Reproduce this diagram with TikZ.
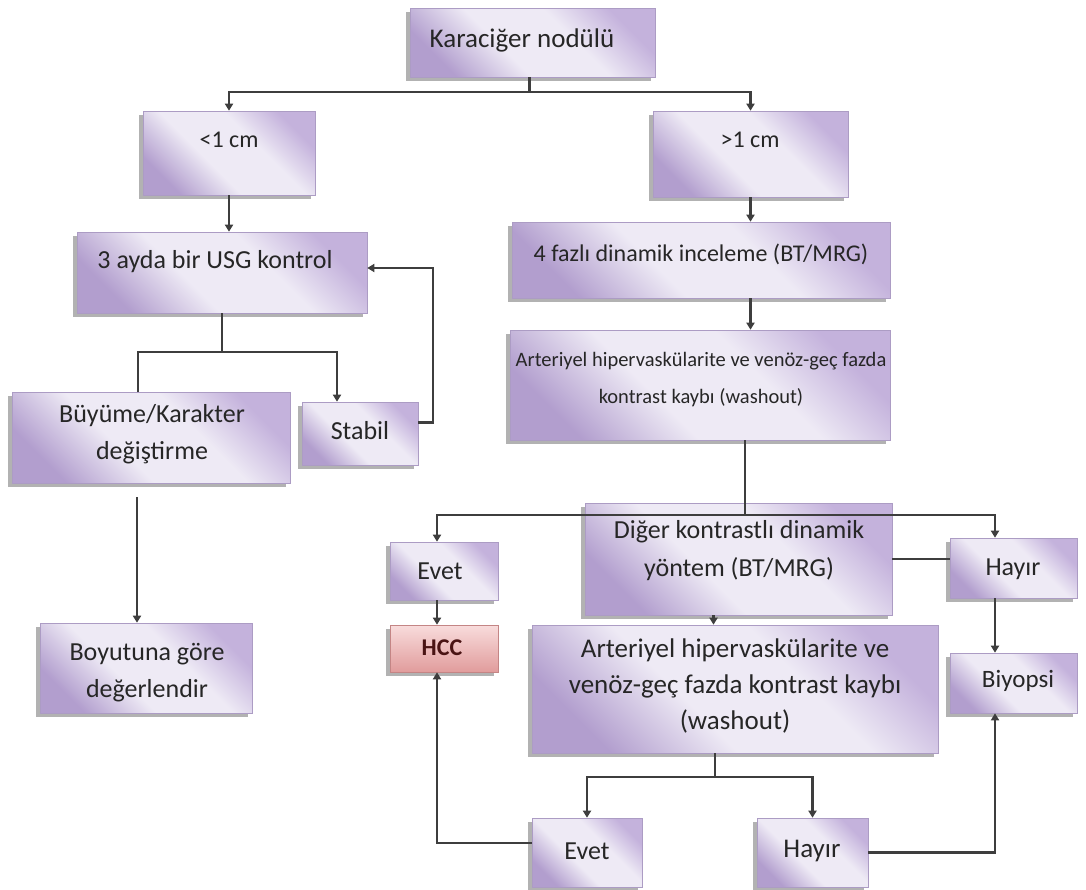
\documentclass[tikz,border=0pt]{standalone}
\usepackage{fontspec}
\setmainfont{Carlito}
\usetikzlibrary{arrows.meta,shadows,fit,calc}
\definecolor{ln}{HTML}{3E3E3E}
\definecolor{txt}{HTML}{262626}
\definecolor{boxedge}{HTML}{AC9CC4}
\definecolor{boxtop}{HTML}{C4B2DC}
\definecolor{boxmid}{HTML}{EEEAF5}
\definecolor{boxbot}{HTML}{B29ECE}
\definecolor{hcctop}{HTML}{F8DCDC}
\definecolor{hccmid}{HTML}{F2C6C6}
\definecolor{hccbot}{HTML}{E19C9C}
\definecolor{hccedge}{HTML}{C48585}
\definecolor{hcctxt}{HTML}{4A1414}
\pgfdeclareverticalshading{lavshade}{100bp}{color(0bp)=(boxbot); color(25bp)=(boxbot); color(42bp)=(boxmid); color(60bp)=(boxmid); color(75bp)=(boxtop); color(100bp)=(boxtop)}
\tikzset{
  box/.style={draw=boxedge, line width=0.6pt, shading=lavshade, shading angle=-45, inner sep=0pt,
    drop shadow={shadow xshift=-4pt, shadow yshift=-4pt, fill=black!55, opacity=0.55}},
  hccbox/.style={draw=hccedge, line width=0.6pt, top color=hcctop, middle color=hccmid, bottom color=hccbot,
    inner sep=0pt, drop shadow={shadow xshift=-4pt, shadow yshift=-4pt, fill=black!55, opacity=0.55}},
  lbl/.style={font=\fontsize{26}{37}\selectfont, text=txt, align=center, inner sep=0pt},
  conn/.style={draw=ln, line width=2.2pt},
  arr/.style={conn, -{Triangle[length=7pt,width=8pt]}},
}
\newcommand\mybox[6][box]{%
  \path (#3,#4) coordinate (#2-nw) (#5,#6) coordinate (#2-se);
  \node[#1, fit=(#2-nw)(#2-se)] (#2) {};}
\begin{document}
\begin{tikzpicture}[x=1pt,y=-1pt]
\useasboundingbox (0,0) rectangle (1086,889);
% boxes
\mybox{kar}{410}{8}{655}{77}
\mybox{lt}{143}{111}{315}{195}
\mybox{gt}{653}{111}{848}{197}
\mybox{usg}{77}{232}{367}{313}
\mybox{faz}{512}{222}{890}{298}
\mybox{artA}{510}{330}{890}{440}
\mybox{buy}{12}{392}{290}{483}
\mybox{stb}{302}{402}{418}{465}
\mybox{boy}{40}{623}{252}{713}
\mybox{evA}{390}{542}{498}{600}
\mybox[hccbox]{hcc}{390}{625}{498}{672}
\mybox{dig}{585}{503}{892}{615}
\mybox{artB}{532}{625}{938}{753}
\mybox{hyA}{950}{538}{1077}{598}
\mybox{biy}{950}{653}{1077}{713}
\mybox{evB}{532}{818}{642}{887}
\mybox{hyB}{757}{818}{868}{887}
% texts
\node[lbl, font=\fontsize{27}{37}\selectfont] (t-kar) at (522,40) {Karaciğer nodülü};
\node[lbl, font=\fontsize{24}{36}\selectfont] (t-lt) at (229,140) {<1 cm};
\node[lbl, font=\fontsize{24}{36}\selectfont] (t-gt) at (750,140) {>1 cm};
\node[lbl] (t-usg) at (215,262) {3 ayda bir USG kontrol};
\node[lbl, font=\fontsize{24}{36}\selectfont] (t-faz) at (701,254) {4 fazlı dinamik inceleme (BT/MRG)};
\node[lbl, font=\fontsize{20.5}{37}\selectfont] (t-artA) at (701,380) {Arteriyel hipervaskülarite ve venöz-geç fazda\\kontrast kaybı (washout)};
\node[lbl] (t-buy) at (152,434) {Büyüme/Karakter\\değiştirme};
\node[lbl] (t-stb) at (360,431) {Stabil};
\node[lbl] (t-boy) at (147,673) {Boyutuna göre\\değerlendir};
\node[lbl] (t-evA) at (440,571) {Evet};
\node[lbl, font=\fontsize{24}{26}\selectfont\bfseries, text=hcctxt] (t-hcc) at (442,648) {HCC};
\node[lbl, font=\fontsize{26}{38}\selectfont] (t-dig) at (739,551) {Diğer kontrastlı dinamik\\yöntem (BT/MRG)};
\node[lbl, font=\fontsize{27}{36}\selectfont] (t-artB) at (735,686) {Arteriyel hipervaskülarite ve\\venöz-geç fazda kontrast kaybı\\(washout)};
\node[lbl] (t-hyA) at (1013,569) {Hayır};
\node[lbl, font=\fontsize{25}{36}\selectfont] (t-biy) at (1018,681) {Biyopsi};
\node[lbl] (t-evB) at (587,851) {Evet};
\node[lbl, font=\fontsize{27}{36}\selectfont] (t-hyB) at (812,851) {Hayır};
% connectors
\draw[conn] ([xshift=-3pt]kar.south) -- ++(0,15) coordinate (j1);
\draw[arr] (j1) -| (lt.north);
\draw[arr] (j1) -| (gt.north);
\draw[arr] (lt.south) -- (lt.south |- usg.north);
\draw[arr] (gt.south) -- (gt.south |- faz.north);
\draw[arr] (faz.south -| gt.south) -- (gt.south |- artA.north);
\draw[conn] (usg.south) -- ++(0,39) coordinate (j2);
\draw[conn] (j2) -| ([xshift=-13pt]buy.north);
\draw[arr] (j2) -| ([xshift=-23pt]stb.north);
\draw[arr] ([yshift=11pt]stb.east) -- ++(15,0) |- ([yshift=4.5pt]usg.east);
\draw[arr] ([xshift=-14pt,yshift=-14pt]buy.south) -- ([xshift=-14pt]buy.south |- boy.north);
\draw[conn] ([xshift=45pt]artA.south) -- ++(0,75) coordinate (j3);
\draw[arr] (j3) -| ([xshift=-7pt]evA.north);
\draw[arr] (j3) -| ([xshift=-18.5pt]hyA.north);
\draw[arr] ([xshift=-7pt]evA.south) -- ([xshift=-7pt]evA.south |- hcc.north);
\draw[conn] (dig.east) -- (dig.east -| hyA.west);
\draw[arr] ([xshift=-25pt]dig.south) -- ([xshift=-25pt]dig.south |- artB.north);
\draw[arr] ([xshift=-18.5pt]hyA.south) -- ([xshift=-18.5pt]hyA.south |- biy.north);
\draw[conn] ([xshift=-20pt]artB.south) -- ++(0,24) coordinate (j4);
\draw[arr] (j4) -| (evB.north);
\draw[arr] (j4) -| (hyB.north);
\draw[arr] ([yshift=9.5pt]evB.west) -| ([xshift=-7pt]hcc.south);
\draw[arr] (hyB.east) -| ([xshift=-18.5pt]biy.south);
\end{tikzpicture}
\end{document}
